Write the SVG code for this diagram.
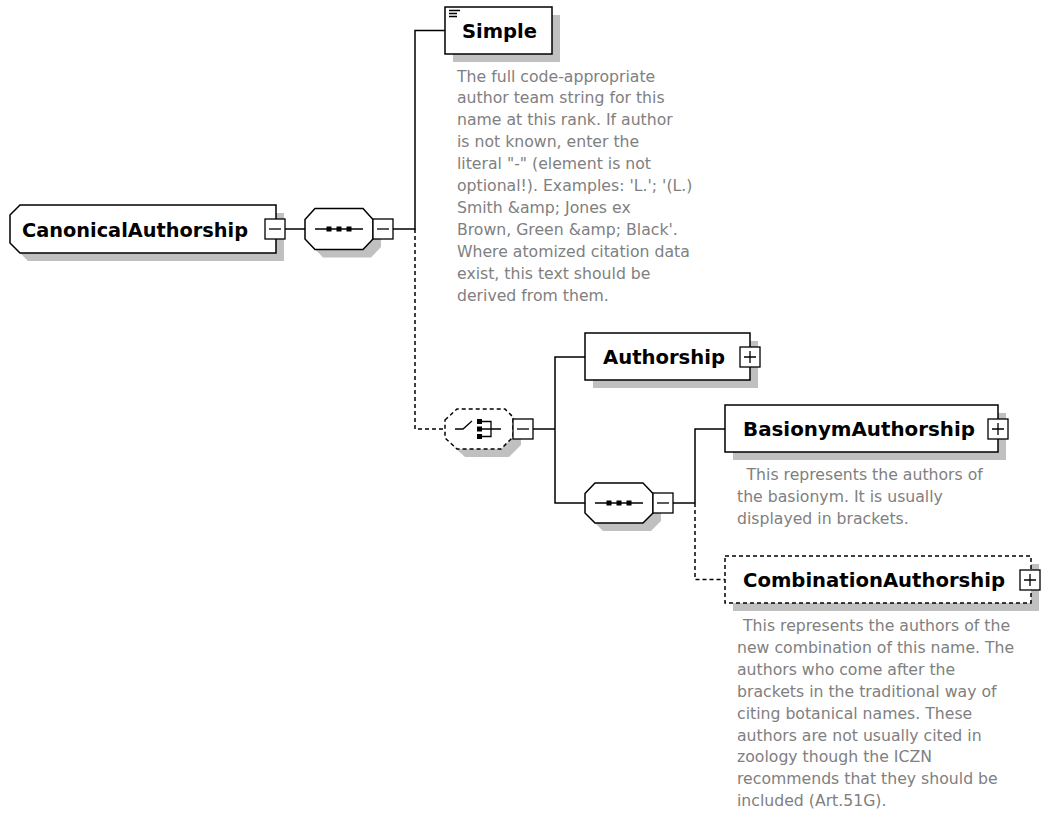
<svg xmlns="http://www.w3.org/2000/svg" width="1042" height="814" viewBox="0 0 1042 814">
<style>
.bg{fill:#fff}
.node{fill:#fff;stroke:#000;stroke-width:1.5}
.dnode{fill:#fff;stroke:#000;stroke-width:1.5;stroke-dasharray:4 3}
.shadow{fill:#c0c0c0}
.name{font-family:"DejaVu Sans",Verdana,sans-serif;font-weight:bold;font-size:19.5px;fill:#000}
.desc{font-family:"DejaVu Sans",Verdana,sans-serif;font-size:15.7px;fill:#808080}
.conn{stroke:#000;stroke-width:1.5;fill:none}
.dash{stroke-dasharray:4 3}
.btn{fill:#fff;stroke:#000;stroke-width:1.3}
.sym{stroke:#000;stroke-width:1.3;fill:none}
.blk{fill:#000}
</style>
<defs>
<g id="minus"><rect class="btn" x="0" y="0" width="20" height="20"/><path class="sym" d="M4,10H16"/></g>
<g id="plus"><rect class="btn" x="0" y="0" width="20" height="20"/><path class="sym" d="M4,10H16M10,4V16"/></g>
<g id="seqicon"><path class="sym" d="M10,0H58"/><rect class="blk" x="21.5" y="-2.5" width="5" height="5"/><rect class="blk" x="31.5" y="-2.5" width="5" height="5"/><rect class="blk" x="41.5" y="-2.5" width="5" height="5"/></g>
</defs>
<rect class="bg" x="0" y="0" width="1042" height="814"/>

<g id="connectors">
<path class="conn" d="M285,229H305"/>
<path class="conn" d="M393,229H415V30.5H445"/>
<path class="conn dash" d="M415,229V429H445"/>
<path class="conn" d="M533,429H555"/>
<path class="conn" d="M585,357H555V503H585"/>
<path class="conn" d="M673,503H695"/>
<path class="conn" d="M725,429H695V503"/>
<path class="conn dash" d="M695,503V579.5H725"/>
</g>

<g id="node-CanonicalAuthorship">
<polygon class="shadow" points="18,223 28,213 284,213 284,261 28,261 18,251"/>
<polygon class="node" points="10,215 20,205 276,205 276,253 20,253 10,243"/>
<text class="name" x="22" y="236.5" textLength="226" lengthAdjust="spacingAndGlyphs">CanonicalAuthorship</text>
<use href="#minus" x="265" y="219"/>
</g>

<g id="node-sequence1">
<polygon class="shadow" points="313,227.5 323,216.5 371,216.5 381,227.5 381,247 371,257.5 323,257.5 313,247"/>
<polygon class="node" points="305,219.5 315,208.5 363,208.5 373,219.5 373,239 363,249.5 315,249.5 305,239"/>
<use href="#seqicon" x="305" y="229"/>
<use href="#minus" x="373" y="219"/>
</g>

<g id="node-Simple">
<rect class="shadow" x="453" y="15" width="107" height="47"/>
<rect class="node" x="445" y="7" width="107" height="47"/>
<path class="sym" d="M449,10.5H460M449,13.5H457M449,16.5H457" stroke-width="1.5"/>
<text class="name" x="462" y="37.5" textLength="75" lengthAdjust="spacingAndGlyphs">Simple</text>
<g class="desc">
<text x="457" y="81.5">The full code-appropriate</text>
<text x="457" y="103.4">author team string for this</text>
<text x="457" y="125.3">name at this rank. If author</text>
<text x="457" y="147.2">is not known, enter the</text>
<text x="457" y="169.1">literal "-" (element is not</text>
<text x="457" y="191">optional!). Examples: 'L.'; '(L.)</text>
<text x="457" y="212.9">Smith &amp;amp; Jones ex</text>
<text x="457" y="234.8">Brown, Green &amp;amp; Black'.</text>
<text x="457" y="256.7">Where atomized citation data</text>
<text x="457" y="278.6">exist, this text should be</text>
<text x="457" y="300.5">derived from them.</text>
</g>
</g>

<g id="node-choice">
<polygon class="shadow" points="453,428 465,417 513,417 521,425 521,445 509,457 465,457 453,446"/>
<polygon class="dnode" points="445,420 457,409 505,409 513,417 513,437 501,449 457,449 445,438"/>
<path class="sym" d="M455,429H463L472,421"/>
<rect class="blk" x="477" y="419" width="5" height="5"/>
<rect class="blk" x="477" y="426.5" width="5" height="5"/>
<rect class="blk" x="477" y="434" width="5" height="5"/>
<path class="sym" d="M482,421.5H491V436.5H482M482,429H501"/>
<use href="#minus" x="513" y="419"/>
</g>

<g id="node-Authorship">
<rect class="shadow" x="593" y="341" width="165" height="47"/>
<rect class="node" x="585" y="333" width="165" height="47"/>
<text class="name" x="603" y="363.5" textLength="122" lengthAdjust="spacingAndGlyphs">Authorship</text>
<use href="#plus" x="740" y="347"/>
</g>

<g id="node-sequence2">
<polygon class="shadow" points="593,501.5 603,491 651,491 661,501.5 661,521 651,531 603,531 593,521"/>
<polygon class="node" points="585,493.5 595,483 643,483 653,493.5 653,513 643,523 595,523 585,513"/>
<use href="#seqicon" x="585" y="503"/>
<use href="#minus" x="653" y="493"/>
</g>

<g id="node-BasionymAuthorship">
<rect class="shadow" x="733" y="413" width="273" height="47"/>
<rect class="node" x="725" y="405" width="273" height="47"/>
<text class="name" x="743" y="436" textLength="232" lengthAdjust="spacingAndGlyphs">BasionymAuthorship</text>
<use href="#plus" x="988" y="419"/>
<g class="desc">
<text x="746.5" y="479.5">This represents the authors of</text>
<text x="737" y="501.5">the basionym. It is usually</text>
<text x="737" y="523.5">displayed in brackets.</text>
</g>
</g>

<g id="node-CombinationAuthorship">
<rect class="shadow" x="733" y="564" width="306" height="47"/>
<rect class="dnode" x="725" y="556" width="306" height="47"/>
<text class="name" x="743" y="586.5" textLength="262" lengthAdjust="spacingAndGlyphs">CombinationAuthorship</text>
<use href="#plus" x="1020" y="570"/>
<g class="desc">
<text x="743" y="631">This represents the authors of the</text>
<text x="737" y="652.9">new combination of this name. The</text>
<text x="737" y="674.8">authors who come after the</text>
<text x="737" y="696.7">brackets in the traditional way of</text>
<text x="737" y="718.6">citing botanical names. These</text>
<text x="737" y="740.5">authors are not usually cited in</text>
<text x="737" y="762.4">zoology though the ICZN</text>
<text x="737" y="784.3">recommends that they should be</text>
<text x="737" y="806.2">included (Art.51G).</text>
</g>
</g>
</svg>
